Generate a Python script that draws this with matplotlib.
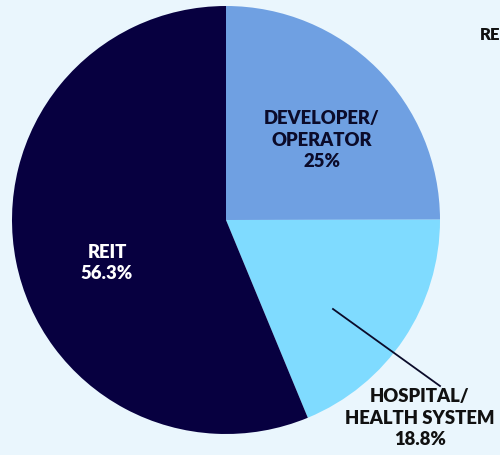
import matplotlib
matplotlib.use("Agg")
import matplotlib.pyplot as plt

# data
labels = ["DEVELOPER/\nOPERATOR", "HOSPITAL/\nHEALTH SYSTEM", "REIT"]
shares = [25.0, 18.8, 56.3]
colors = ["#6fa0e2", "#7fdbff", "#070040"]

bg = "#eaf6fd"
W, H = 500, 455

fig = plt.figure(figsize=(W / 100, H / 100), dpi=100, facecolor=bg)

# pie centre at (226, 220) px, radius 214 px
cx, cy, r = 226, 220, 214
ax = fig.add_axes([(cx - r) / W, (H - cy - r) / H, 2 * r / W, 2 * r / H])
ax.set_facecolor(bg)
ax.pie(shares, colors=colors, startangle=90, counterclock=False, radius=1,
       wedgeprops=dict(linewidth=0))
ax.set_xlim(-1, 1)
ax.set_ylim(-1, 1)
ax.set_aspect("equal")
ax.axis("off")


def px(x, y):
    return x / W, 1 - y / H


font = dict(family="Lato", fontweight="heavy", fontsize=13.3, ha="center",
            va="center", linespacing=1.35)

# developer label
fig.text(*px(322, 140), f"{labels[0]}\n{shares[0]:g}%", color="#0b0b2a", **font)
# REIT label
fig.text(*px(107, 263), f"{labels[2]}\n{shares[2]:g}%", color="white", **font)
# hospital label with leader line
fig.text(*px(420, 418), f"{labels[1]}\n{shares[1]:g}%", color="#111111", **font)
fig.add_artist(plt.Line2D([333 / W, 440 / W], [1 - 309 / H, 1 - 386 / H],
                          transform=fig.transFigure, color="#0b0b2a", lw=1.3))

# heading at top right (runs off the frame in the source)
fig.text(*px(480, 35), "RE", color="#111111", fontsize=12, family="Lato",
         fontweight="heavy", ha="left", va="center")

fig.savefig("out.png", dpi=100, facecolor=bg)
